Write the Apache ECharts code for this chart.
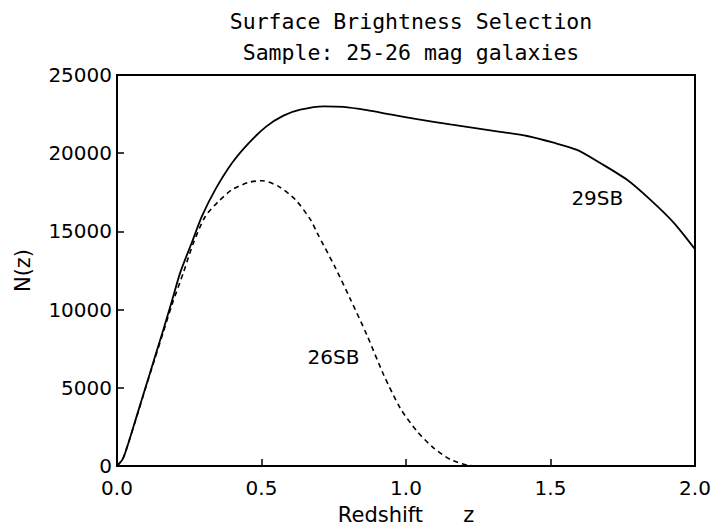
<!DOCTYPE html>
<html>
<head>
<meta charset="utf-8">
<script src="https://cdn.jsdelivr.net/npm/echarts@6/dist/echarts.min.js"></script>
<style>html,body{margin:0;padding:0;background:#fff}#c{width:716px;height:530px}</style>
</head>
<body>
<div id="c"></div>
<script>
// 29SB (solid)
var z29 = [0, 0.02, 0.04, 0.07, 0.1, 0.13, 0.16, 0.19, 0.219, 0.259, 0.294, 0.34, 0.398, 0.455, 0.516, 0.576, 0.634, 0.715, 0.784, 0.865, 0.946, 1.038, 1.153, 1.326, 1.419, 1.511, 1.592, 1.672, 1.765, 1.845, 1.926, 2.0];
var n29 = [0, 450, 1500, 3300, 5100, 6900, 8700, 10550, 12380, 14290, 15970, 17670, 19370, 20630, 21700, 22400, 22780, 23000, 22960, 22750, 22480, 22180, 21840, 21370, 21100, 20670, 20210, 19370, 18300, 17030, 15560, 13860];
// 26SB (dashed)
var z26 = [0, 0.02, 0.04, 0.07, 0.1, 0.13, 0.16, 0.19, 0.23, 0.265, 0.306, 0.352, 0.398, 0.455, 0.502, 0.559, 0.617, 0.669, 0.692, 0.755, 0.807, 0.865, 0.923, 0.98, 1.038, 1.095, 1.153, 1.211, 1.27];
var n26 = [0, 450, 1500, 3250, 5050, 6800, 8550, 10300, 12380, 14290, 15970, 16930, 17670, 18130, 18240, 17880, 17030, 15770, 14920, 12700, 10690, 8360, 5820, 3700, 2220, 1160, 420, 60, 0];
var curveNames = ['29SB', '26SB'];
var xTicks = [0, 0.5, 1.0, 1.5, 2.0];
var yTicks = [0, 5000, 10000, 15000, 20000, 25000];
// label anchors (data coords)
var label29 = [1.662, 17160];
var label26 = [0.749, 7000];

function pairs(xs, ys) { return xs.map(function (x, i) { return [x, ys[i]]; }); }

var chart = echarts.init(document.getElementById('c'), null, { renderer: 'svg' });
var black = '#000';
var font = 'DejaVu Sans';
chart.setOption({
  animation: false,
  backgroundColor: '#fff',
  title: {
    text: 'Surface Brightness Selection',
    subtext: 'Sample: 25-26 mag galaxies',
    left: 406, top: 5, textAlign: 'center', itemGap: 9,
    textStyle: { fontFamily: 'DejaVu Sans Mono', fontSize: 21.5, fontWeight: 'normal', color: black },
    subtextStyle: { fontFamily: 'DejaVu Sans Mono', fontSize: 21.5, color: black }
  },
  grid: { left: 117, right: 21, top: 75, bottom: 62, show: true, borderColor: black, borderWidth: 2, backgroundColor: 'transparent' },
  xAxis: {
    type: 'value', min: xTicks[0], max: xTicks[xTicks.length - 1], interval: 0.5,
    name: 'Redshift      z', nameLocation: 'middle', nameGap: 38,
    nameTextStyle: { fontFamily: font, fontSize: 21, color: black },
    axisLine: { show: true, lineStyle: { color: black, width: 2 } },
    axisTick: { show: true, inside: true, length: 7, lineStyle: { color: black, width: 1.5 } },
    axisLabel: { fontFamily: font, fontSize: 20, lineHeight: 15, color: black, margin: 14, formatter: function (v) { return v.toFixed(1); } },
    splitLine: { show: false }
  },
  yAxis: {
    type: 'value', min: yTicks[0], max: yTicks[yTicks.length - 1], interval: 5000,
    name: 'N(z)', nameLocation: 'middle', nameGap: 84, nameRotate: 90,
    nameTextStyle: { fontFamily: font, fontSize: 21, color: black },
    axisLine: { show: true, lineStyle: { color: black, width: 2 } },
    axisTick: { show: true, inside: true, length: 7, lineStyle: { color: black, width: 1.5 } },
    axisLabel: { fontFamily: font, fontSize: 20, lineHeight: 15, color: black, margin: 5, formatter: function (v) { return String(v); } },
    splitLine: { show: false }
  },
  series: [
    {
      name: curveNames[0], type: 'line', data: pairs(z29, n29), smooth: 0.25, showSymbol: false,
      lineStyle: { color: black, width: 1.8 },
      markPoint: {
        symbol: 'circle', symbolSize: 0, silent: true,
        label: { show: true, position: 'inside', formatter: curveNames[0], fontFamily: font, fontSize: 20, color: black },
        data: [{ coord: label29 }]
      }
    },
    {
      name: curveNames[1], type: 'line', data: pairs(z26, n26), smooth: 0.25, showSymbol: false,
      lineStyle: { color: black, width: 1.6, type: [5, 4] },
      markPoint: {
        symbol: 'circle', symbolSize: 0, silent: true,
        label: { show: true, position: 'inside', formatter: curveNames[1], fontFamily: font, fontSize: 20, color: black },
        data: [{ coord: label26 }]
      }
    }
  ]
});
</script>
</body>
</html>
